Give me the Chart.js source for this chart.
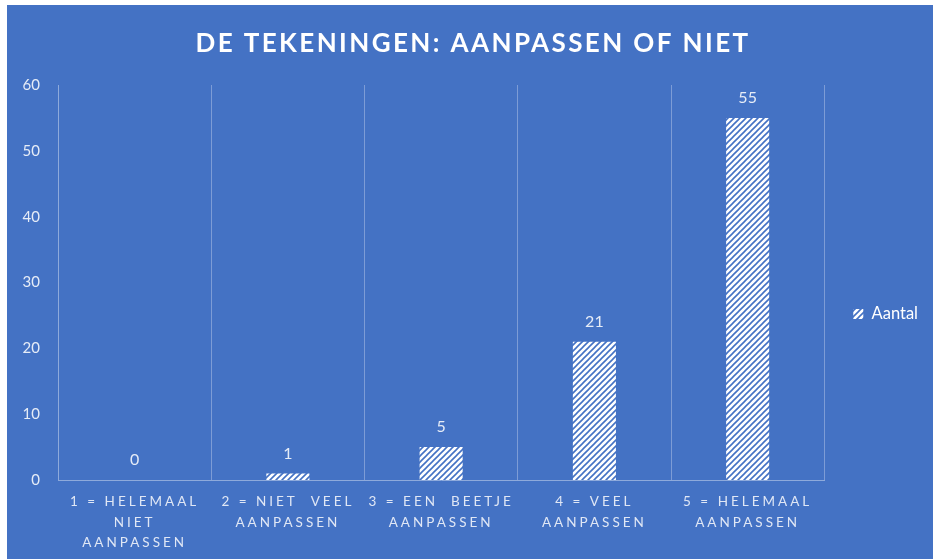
<!DOCTYPE html>
<html>
<head>
<meta charset="utf-8">
<script src="https://cdn.jsdelivr.net/npm/chart.js@4.4.1/dist/chart.umd.min.js"></script>
<style>
  html, body { margin: 0; padding: 0; background: #ffffff; }
  #kader { position: absolute; left: 7px; top: 5px; width: 926px; height: 554px; background: #4472c4; }
</style>
</head>
<body>
<div id="kader"><canvas id="grafiek"></canvas></div>
<script>
// gegevens
const categorieen = [
  ['1 = HELEMAAL', 'NIET', 'AANPASSEN'],
  ['2 = NIET  VEEL', 'AANPASSEN'],
  ['3 = EEN  BEETJE', 'AANPASSEN'],
  ['4 = VEEL', 'AANPASSEN'],
  ['5 = HELEMAAL', 'AANPASSEN']
];
const aantal = [0, 1, 5, 21, 55];
const yMin = 0;
const yMax = 60;
const yStap = 10;

const achtergrond = '#4472c4';
const lettertype = 'Lato, "Open Sans", sans-serif';

// arcering: witte schuine strepen op blauw
function maakArcering() {
  const c = document.createElement('canvas');
  c.width = 6;
  c.height = 6;
  const g = c.getContext('2d');
  g.fillStyle = '#ffffff';
  g.fillRect(0, 0, 6, 6);
  g.strokeStyle = achtergrond;
  g.lineWidth = 1.6;
  g.beginPath();
  g.moveTo(-1, 7); g.lineTo(7, -1);
  g.moveTo(-1, 1); g.lineTo(1, -1);
  g.moveTo(5, 7); g.lineTo(7, 5);
  g.stroke();
  return g.createPattern(c, 'repeat');
}

// waarden boven de staven
const waardeLabels = {
  id: 'waardeLabels',
  afterDatasetsDraw(chart) {
    const ctx = chart.ctx;
    const meta = chart.getDatasetMeta(0);
    ctx.save();
    ctx.font = '16px ' + lettertype;
    ctx.fillStyle = '#e6ecf7';
    ctx.textAlign = 'center';
    ctx.textBaseline = 'middle';
    meta.data.forEach((bar, i) => {
      ctx.fillText(String(chart.data.datasets[0].data[i]), bar.x, bar.y - 20);
    });
    ctx.restore();
  }
};

function metSpatiering(chart, obj, naam, ruimte) {
  if (!obj || obj['_sp_' + naam]) return;
  const orig = obj[naam].bind(obj);
  obj[naam] = function (...args) {
    chart.ctx.save();
    chart.ctx.letterSpacing = ruimte;
    orig(...args);
    chart.ctx.restore();
  };
  obj['_sp_' + naam] = true;
}

// letterafstand voor titel en categorieën, legenda en titel verschoven
const opmaak = {
  id: 'opmaak',
  afterLayout(chart) {
    const lg = chart.legend;
    lg.top += 32;
    lg.bottom += 32;
    lg.left += 19;
    lg.right += 19;
    const tb = chart.titleBlock;
    tb.left = 6;
    tb.right = chart.width;
    metSpatiering(chart, chart.scales.x, 'drawLabels', '3px');
    metSpatiering(chart, tb, 'draw', '2.4px');
  }
};

const ctx = document.getElementById('grafiek').getContext('2d');
new Chart(ctx, {
  type: 'bar',
  data: {
    labels: categorieen,
    datasets: [{
      label: 'Aantal',
      data: aantal,
      backgroundColor: maakArcering(),
      borderWidth: 0,
      categoryPercentage: 1,
      barPercentage: 0.281
    }]
  },
  options: {
    responsive: true,
    maintainAspectRatio: false,
    animation: false,
    layout: { padding: { left: 0, right: 24, top: 0, bottom: 0 } },
    plugins: {
      title: {
        display: true,
        text: 'DE TEKENINGEN: AANPASSEN OF NIET',
        color: '#ffffff',
        font: { family: lettertype, size: 26, weight: 'bold', lineHeight: 1.2 },
        padding: { top: 23, bottom: 25.8 }
      },
      legend: {
        display: true,
        position: 'right',
        labels: {
          color: '#ffffff',
          font: { family: lettertype, size: 16.5 },
          boxWidth: 10,
          boxHeight: 10,
          padding: 10
        }
      },
      tooltip: { enabled: false }
    },
    scales: {
      x: {
        grid: { display: true, offset: true, color: '#7d9cd6', drawTicks: false, lineWidth: 1 },
        border: { display: true, color: '#8eaadb' },
        ticks: {
          color: '#e0e7f5',
          font: { family: lettertype, size: 13.5, lineHeight: 1.5 },
          padding: 12,
          maxRotation: 0,
          autoSkip: false
        },
        afterFit(s) { s.height = 79; }
      },
      y: {
        min: yMin,
        max: yMax,
        grid: { display: false, drawTicks: false },
        border: { display: true, color: '#8eaadb' },
        ticks: {
          stepSize: yStap,
          color: '#e6ecf7',
          font: { family: lettertype, size: 15 },
          padding: 18
        },
        afterFit(s) { s.width = 51; }
      }
    }
  },
  plugins: [waardeLabels, opmaak]
});
</script>
</body>
</html>
